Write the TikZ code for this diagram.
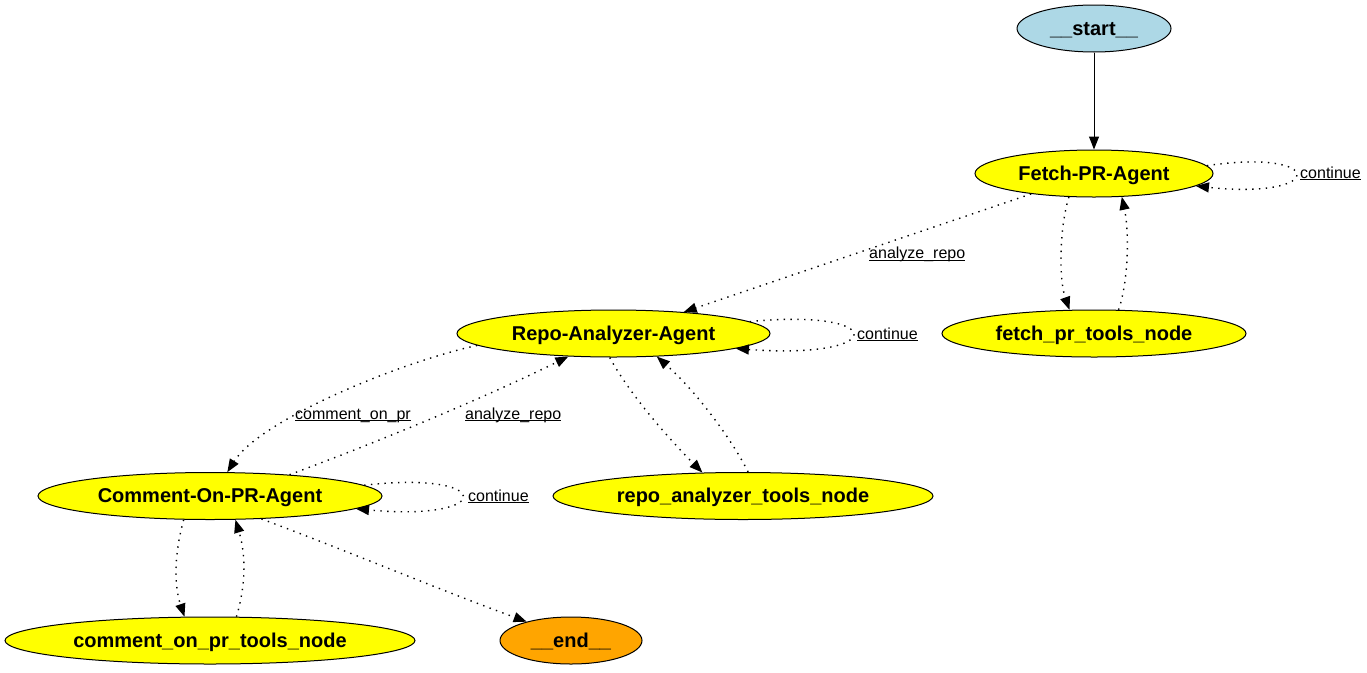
\documentclass[tikz,border=0pt]{standalone}
\usepackage{fontspec}
\setmainfont{Liberation Sans}
\usetikzlibrary{arrows.meta,shapes.geometric}
\definecolor{gvyellow}{HTML}{FFFF00}
\definecolor{gvblue}{HTML}{ADD8E6}
\definecolor{gvorange}{HTML}{FFA500}
\newcommand\ulbl[1]{\underline{\smash{#1}}}
\begin{document}
\begin{tikzpicture}[x=1pt,y=-1pt,
  gnode/.style={ellipse, draw=black, line width=1pt, inner sep=0pt, minimum height=47pt,
    font=\bfseries\fontsize{20}{21}\selectfont, text height=13.5pt, text depth=0pt},
  elabel/.style={anchor=base west, inner sep=0pt, font=\fontsize{16}{18}\selectfont},
  dotedge/.style={line width=1.4pt, dash pattern=on 1.4pt off 5.4pt, -{Triangle[length=13pt,width=10pt]}},
  solidedge/.style={line width=1pt, -{Triangle[length=13pt,width=10pt]}},
]
\useasboundingbox (0,0) rectangle (1367,672);

\node[gnode, fill=gvblue, minimum width=154pt] (startn) at (1094,28.5) {\_\_start\_\_};
\node[gnode, fill=gvyellow, minimum width=238pt] (fetch) at (1094,173.5) {Fetch-PR-Agent};
\node[gnode, fill=gvyellow, minimum width=304pt] (ftools) at (1094,333.5) {fetch\_pr\_tools\_node};
\node[gnode, fill=gvyellow, minimum width=313pt] (repo) at (613.5,333.5) {Repo-Analyzer-Agent};
\node[gnode, fill=gvyellow, minimum width=380pt] (rtools) at (743,496) {repo\_analyzer\_tools\_node};
\node[gnode, fill=gvyellow, minimum width=344pt] (comment) at (210,496) {Comment-On-PR-Agent};
\node[gnode, fill=gvyellow, minimum width=410pt] (ctools) at (210,640.5) {comment\_on\_pr\_tools\_node};
\node[gnode, fill=gvorange, minimum width=142pt] (endn) at (571,640.5) {\_\_end\_\_};

\node[elabel] (l1) at (1300,178) {\ulbl{continue}};
\node[elabel] (l2) at (869,258.5) {\ulbl{analyze\_repo}};
\node[elabel] (l3) at (857,339) {\ulbl{continue}};
\node[elabel] (l4) at (295,419) {\ulbl{comment\_on\_pr}};
\node[elabel] (l5) at (465,419) {\ulbl{analyze\_repo}};
\node[elabel] (l6) at (468,501) {\ulbl{continue}};

\draw[solidedge] (startn) -- (fetch);
\draw[dotedge] (fetch.4.9) .. controls (1327,148) and (1327,200) .. (fetch.353.7);
\draw[dotedge] (fetch.198.3) -- (repo.17.9);
\draw[dotedge] (fetch.223.8) .. controls (1059,230) and (1059,280) .. (ftools.136);
\draw[dotedge] (ftools.44) .. controls (1129,280) and (1129,230) .. (fetch.320.8);
\draw[dotedge] (repo.5.1) .. controls (889,308) and (889,360) .. (repo.353.7);
\draw[dotedge] (repo.185) .. controls (400,362) and (260,420) .. (comment.54);
\draw[dotedge] (comment.15.8) .. controls (370,445) and (480,400) .. (repo.207.5);
\draw[dotedge] (repo.261.5) .. controls (630,395) and (670,440) .. (rtools.150.1);
\draw[dotedge] (rtools.78) .. controls (735,445) and (700,395) .. (repo.332.5);
\draw[dotedge] (comment.4) .. controls (496,470) and (496,522) .. (comment.355);
\draw[dotedge] (comment.222.9) .. controls (174,555) and (174,585) .. (ctools.137.3);
\draw[dotedge] (ctools.42.7) .. controls (246,585) and (246,555) .. (comment.317.1);
\draw[dotedge] (comment.336.7) .. controls (345,550) and (440,590) .. (endn.157.3);
\end{tikzpicture}
\end{document}
